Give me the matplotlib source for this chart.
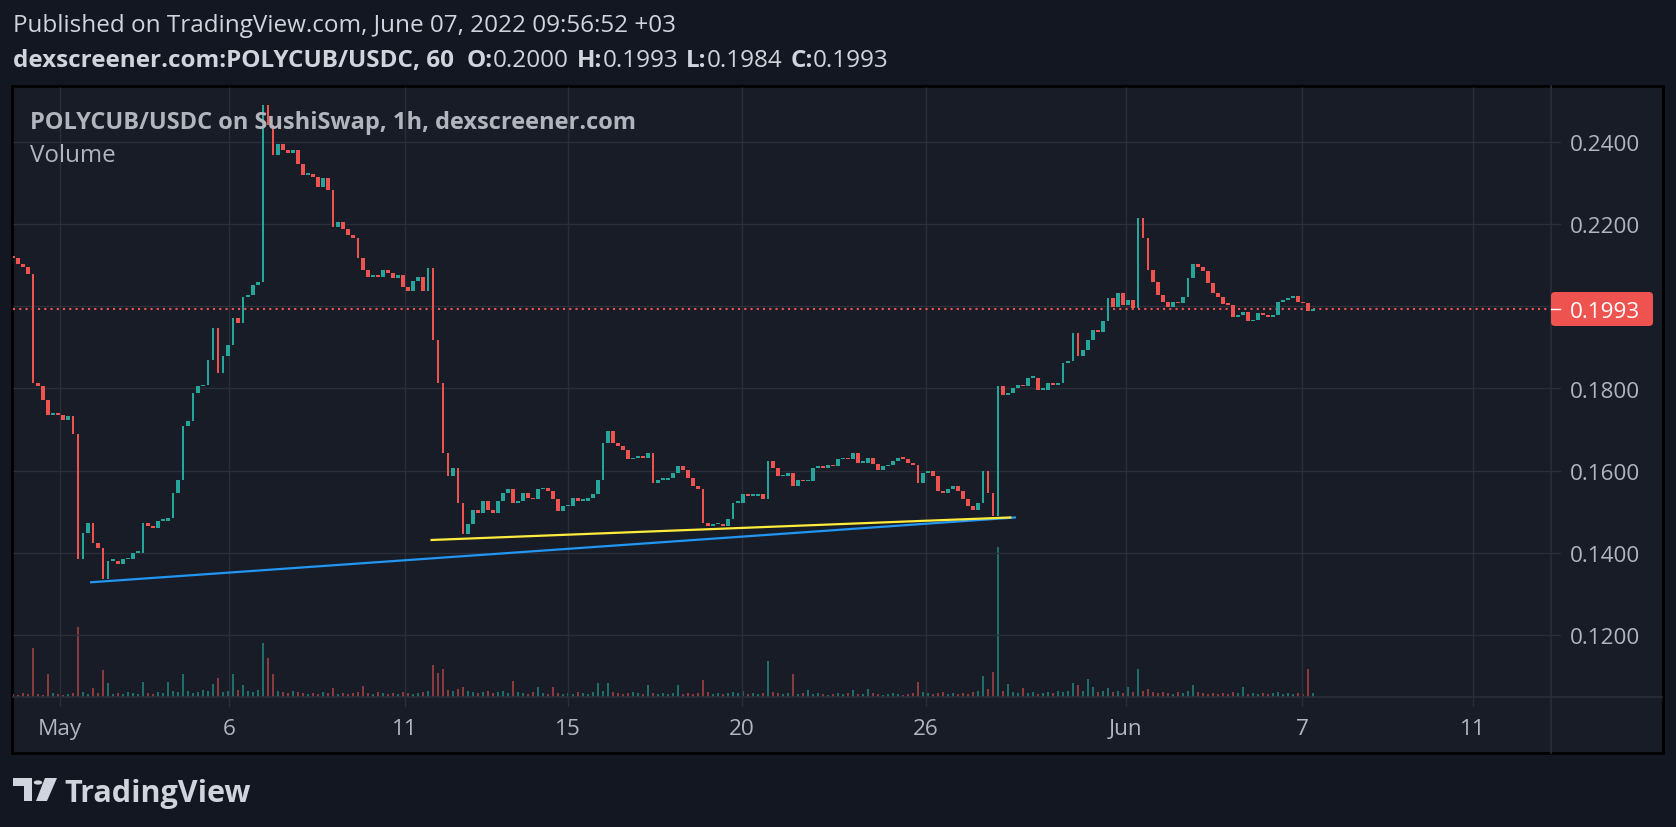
import matplotlib
matplotlib.use("Agg")
import matplotlib.pyplot as plt
import matplotlib.transforms as mtransforms
from matplotlib.patches import Rectangle, FancyBboxPatch, Circle, Polygon
from matplotlib.lines import Line2D
import numpy as np

plt.rcParams["font.family"] = ["Open Sans", "DejaVu Sans"]

# ------------------------------------------------------------
# DATA (~3h steps)
# ------------------------------------------------------------
first_open = 0.2120
closes = [
    0.2117, 0.2104, 0.2096, 0.2079, 0.1813, 0.1805, 0.1772, 0.1736, 0.1740, 0.1736,
    0.1724, 0.1732, 0.1690, 0.1385, 0.1449, 0.1473, 0.1424, 0.1412, 0.1335, 0.1380,
    0.1380, 0.1372, 0.1384, 0.1384, 0.1400, 0.1400, 0.1473, 0.1465, 0.1461, 0.1477,
    0.1477, 0.1485, 0.1546, 0.1578, 0.1708, 0.1720, 0.1789, 0.1805, 0.1809, 0.1870,
    0.1947, 0.1837, 0.1878, 0.1906, 0.1971, 0.1959, 0.2023, 0.2028, 0.2052, 0.2060,
    0.2490, 0.2440, 0.2368, 0.2396, 0.2380, 0.2372, 0.2380, 0.2347, 0.2319, 0.2323,
    0.2315, 0.2291, 0.2311, 0.2283, 0.2194, 0.2206, 0.2189, 0.2173, 0.2165, 0.2117,
    0.2088, 0.2072, 0.2076, 0.2072, 0.2088, 0.2080, 0.2068, 0.2076, 0.2048, 0.2036,
    0.2062, 0.2072, 0.2036, 0.2092, 0.1918, 0.1813, 0.1643, 0.1586, 0.1606, 0.1521,
    0.1445, 0.1470, 0.1505, 0.1497, 0.1526, 0.1505, 0.1497, 0.1526, 0.1546, 0.1554,
    0.1521, 0.1526, 0.1546, 0.1534, 0.1530, 0.1554, 0.1558, 0.1550, 0.1530, 0.1501,
    0.1513, 0.1513, 0.1534, 0.1526, 0.1526, 0.1534, 0.1542, 0.1578, 0.1667, 0.1696,
    0.1667, 0.1659, 0.1651, 0.1627, 0.1631, 0.1635, 0.1631, 0.1643, 0.1570, 0.1578,
    0.1578, 0.1582, 0.1594, 0.1610, 0.1602, 0.1582, 0.1562, 0.1554, 0.1473, 0.1465,
    0.1469, 0.1469, 0.1465, 0.1481, 0.1521, 0.1521, 0.1542, 0.1538, 0.1538, 0.1542,
    0.1530, 0.1623, 0.1606, 0.1586, 0.1586, 0.1594, 0.1562, 0.1578, 0.1574, 0.1574,
    0.1606, 0.1610, 0.1606, 0.1614, 0.1610, 0.1627, 0.1631, 0.1627, 0.1643, 0.1619,
    0.1619, 0.1631, 0.1615, 0.1602, 0.1610, 0.1614, 0.1623, 0.1631, 0.1628, 0.1619,
    0.1614, 0.1570, 0.1594, 0.1598, 0.1586, 0.1550, 0.1546, 0.1554, 0.1562, 0.1550,
    0.1530, 0.1513, 0.1505, 0.1521, 0.1600, 0.1546, 0.1489, 0.1805, 0.1785, 0.1789,
    0.1802, 0.1809, 0.1805, 0.1825, 0.1825, 0.1797, 0.1797, 0.1813, 0.1809, 0.1813,
    0.1862, 0.1866, 0.1934, 0.1878, 0.1894, 0.1918, 0.1943, 0.1938, 0.1963, 0.2019,
    0.1999, 0.2032, 0.2003, 0.2015, 0.1995, 0.2215, 0.2165, 0.2088, 0.2058, 0.2028,
    0.2011, 0.1999, 0.2011, 0.2007, 0.2023, 0.2068, 0.2104, 0.2096, 0.2087, 0.2057,
    0.2032, 0.2023, 0.2006, 0.2003, 0.1975, 0.1979, 0.1987, 0.1963, 0.1967, 0.1983,
    0.1979, 0.1975, 0.1979, 0.2011, 0.2015, 0.2019, 0.2025, 0.2011, 0.2007, 0.1989,
    0.1993,
]
volume = [
    3, 2, 4, 3, 49, 3, 2, 23, 4, 3,
    2, 3, 4, 70, 5, 3, 9, 4, 27, 14,
    3, 4, 3, 5, 4, 3, 15, 4, 3, 5,
    4, 15, 6, 5, 23, 6, 4, 5, 7, 6,
    13, 19, 5, 6, 23, 7, 12, 6, 5, 7,
    54, 39, 23, 6, 5, 4, 6, 5, 4, 3,
    4, 3, 5, 4, 9, 3, 4, 3, 4, 5,
    11, 4, 3, 5, 4, 3, 4, 3, 5, 4,
    3, 4, 5, 6, 32, 24, 28, 7, 6, 8,
    10, 6, 5, 4, 5, 6, 4, 5, 6, 4,
    16, 5, 4, 3, 5, 10, 4, 3, 10, 4,
    3, 4, 3, 5, 4, 3, 5, 14, 6, 14,
    5, 4, 3, 4, 5, 4, 3, 12, 4, 3,
    4, 3, 4, 12, 3, 4, 3, 4, 17, 5,
    3, 4, 3, 4, 5, 4, 6, 3, 4, 3,
    4, 36, 5, 4, 3, 4, 23, 3, 4, 7,
    3, 4, 3, 2, 3, 4, 3, 4, 7, 3,
    3, 8, 4, 3, 2, 3, 4, 3, 2, 3,
    4, 15, 5, 4, 3, 4, 5, 3, 4, 3,
    4, 3, 5, 6, 21, 8, 25, 150, 6, 13,
    5, 4, 9, 4, 5, 3, 4, 5, 4, 6,
    5, 6, 14, 12, 6, 18, 10, 5, 6, 9,
    5, 6, 4, 10, 5, 28, 6, 8, 5, 4,
    5, 4, 3, 5, 4, 6, 12, 5, 4, 3,
    4, 3, 4, 3, 5, 4, 10, 3, 4, 3,
    4, 3, 4, 5, 3, 4, 3, 4, 3, 28,
    4,
]

price_ticks  = [0.1200, 0.1400, 0.1600, 0.1800, 0.2000, 0.2200, 0.2400]
price_labels = ["0.1200", "0.1400", "0.1600", "0.1800", "", "0.2200", "0.2400"]
time_ticks   = [9.4, 43.2, 78.4, 111.0, 145.8, 182.6, 222.6, 257.8, 292.0]
time_labels  = ["May", "6", "11", "15", "20", "26", "Jun", "7", "11"]

blue_x,   blue_y   = [15.4, 200.6], [0.1328, 0.1486]
yellow_x, yellow_y = [83.5, 199.7], [0.1431, 0.1486]
last_price = 0.1993

# ------------------------------------------------------------
# STYLE
# ------------------------------------------------------------
W, H  = 1676, 828
BG    = "#131722"
PANE  = "#181c27"
GRID  = "#2a2e39"
TEXT  = "#d1d4dc"
AXTXT = "#b2b5be"
UP    = "#26a69a"
DOWN  = "#ef5350"

def fx(px):
    return px / W

def fy(py):
    return 1 - py / H

fig = plt.figure(figsize=(W / 100, H / 100), dpi=100, facecolor=BG)

# chart frame (pane + axes area), kept behind the axes
fig.patches.append(Rectangle((fx(12), fy(754)), fx(1663) - fx(12), fy(87) - fy(754),
                             transform=fig.transFigure, facecolor=PANE,
                             edgecolor="black", lw=2.0, zorder=-5))

rect = [fx(13), fy(698), fx(1551) - fx(13), fy(88) - fy(698)]
vax = fig.add_axes(rect)
ax  = fig.add_axes(rect, sharex=vax)
for a in (vax, ax):
    a.set_facecolor("none")
    a.set_axis_off()

XMAX = 307.6
YMIN, YMAX = 0.10489, 0.25337
ax.set_xlim(0, XMAX)
ax.set_ylim(YMIN, YMAX)
vax.set_ylim(0, max(volume) * 4.07)

# grid
ax.hlines(price_ticks, 0, XMAX, color=GRID, lw=1, zorder=0)
ax.vlines(time_ticks, YMIN, YMAX, color=GRID, lw=1, zorder=0)

# candles: big single-bar moves drawn narrower, like the thin hourly bars
c = np.array(closes)
o = np.array([first_open] + closes[:-1])
idx = np.arange(len(c))
up = c >= o
colors = np.where(up, UP, DOWN)
move = np.abs(c - o)
body_lo = np.minimum(o, c)
body_h = np.maximum(move, 0.00042)
widths = np.where(move > 0.004, 0.5, 0.95)
ax.bar(idx, body_h, bottom=body_lo, width=widths, color=colors, linewidth=0, zorder=3)

# volume
vcolors = np.where(up, "#1f6e6a", "#8a3b3d")
vax.bar(idx, volume, width=0.35, color=vcolors, linewidth=0, zorder=1)

# trend lines
ax.plot(blue_x, blue_y, color="#2196f3", lw=1.6, solid_capstyle="butt", zorder=4)
ax.plot(yellow_x, yellow_y, color="#ffeb3b", lw=1.6, solid_capstyle="butt", zorder=5)

# last price line
ax.axhline(last_price, color=DOWN, lw=1.5, linestyle=(0, (1, 2)), zorder=2)

# axis separators
fig.add_artist(Line2D([fx(1551), fx(1551)], [fy(87), fy(754)], color=GRID, lw=1.2))
fig.add_artist(Line2D([fx(13), fx(1662)], [fy(698), fy(698)], color=GRID, lw=1.2))

# price scale
ytr = mtransforms.blended_transform_factory(fig.transFigure, ax.transData)
ytr_txt = mtransforms.offset_copy(ytr, fig=fig, y=-8.2, units="dots")
for v, lab in zip(price_ticks, price_labels):
    fig.add_artist(Line2D([fx(1551), fx(1560)], [v, v], color=GRID, lw=1, transform=ytr))
    if lab:
        fig.text(fx(1570), v, lab, transform=ytr_txt, color=AXTXT, fontsize=16.2,
                 va="baseline", ha="left")

# last price label
fig.patches.append(FancyBboxPatch((1551, H - 327), 102, 34,
                                  boxstyle="round,pad=0,rounding_size=4",
                                  transform=mtransforms.IdentityTransform(),
                                  facecolor=DOWN, edgecolor="none", zorder=5))
fig.add_artist(Line2D([fx(1551), fx(1560)], [last_price, last_price], color="white",
                      lw=1, transform=ytr, zorder=6))
fig.text(fx(1570), last_price, "0.1993", transform=ytr_txt, color="white", fontsize=16.2,
         va="baseline", ha="left", zorder=7)

# time scale
xtr = mtransforms.blended_transform_factory(ax.transData, fig.transFigure)
for t, lab in zip(time_ticks, time_labels):
    fig.add_artist(Line2D([t, t], [fy(698), fy(707)], color=GRID, lw=1, transform=xtr))
    fig.text(t, fy(735), lab, transform=xtr, color=AXTXT, fontsize=16.2,
             ha="center", va="baseline")

# pane legend
fig.text(fx(30), fy(129), "POLYCUB/USDC on SushiSwap, 1h, dexscreener.com",
         color=AXTXT, fontsize=17.0, fontweight="bold", va="baseline", ha="left")
fig.text(fx(30), fy(162.5), "Volume", color=AXTXT, fontsize=17.4, va="baseline", ha="left")

# header
fig.text(fx(13), fy(32.3), "Published on TradingView.com, June 07, 2022 09:56:52 +03",
         color=TEXT, fontsize=17.5, va="baseline", ha="left")

fig.canvas.draw()
renderer = fig.canvas.get_renderer()
parts = [("dexscreener.com:POLYCUB/USDC, 60", "bold", 13),
         ("O:", "bold", 0), ("0.2000", "normal", 8),
         ("H:", "bold", 0), ("0.1993", "normal", 8),
         ("L:", "bold", 0), ("0.1984", "normal", 8),
         ("C:", "bold", 0), ("0.1993", "normal", 0)]
xpos = 13
for s, weight, gap in parts:
    t = fig.text(fx(xpos), fy(66.7), s, color=TEXT, fontsize=17.5, fontweight=weight,
                 va="baseline", ha="left")
    xpos += t.get_window_extent(renderer=renderer).width + gap

# TradingView logo
logo_c = "#d1d4dc"
fig.patches.append(Polygon([(fx(13), fy(779)), (fx(32), fy(779)), (fx(32), fy(802)),
                            (fx(24), fy(802)), (fx(24), fy(787)), (fx(13), fy(787))],
                           closed=True, transform=fig.transFigure, facecolor=logo_c,
                           edgecolor="none"))
fig.patches.append(Circle((fx(38), fy(783.5)), 4.3 / W, transform=fig.transFigure,
                          facecolor=logo_c, edgecolor="none"))
fig.patches.append(Polygon([(fx(45), fy(779)), (fx(57), fy(779)), (fx(47), fy(802)),
                            (fx(36), fy(802))],
                           closed=True, transform=fig.transFigure, facecolor=logo_c,
                           edgecolor="none"))
fig.text(fx(64), fy(802), "TradingView", color=logo_c, fontsize=22, fontweight="bold",
         va="baseline", ha="left")

fig.savefig("out.png", dpi=100, facecolor=BG)
